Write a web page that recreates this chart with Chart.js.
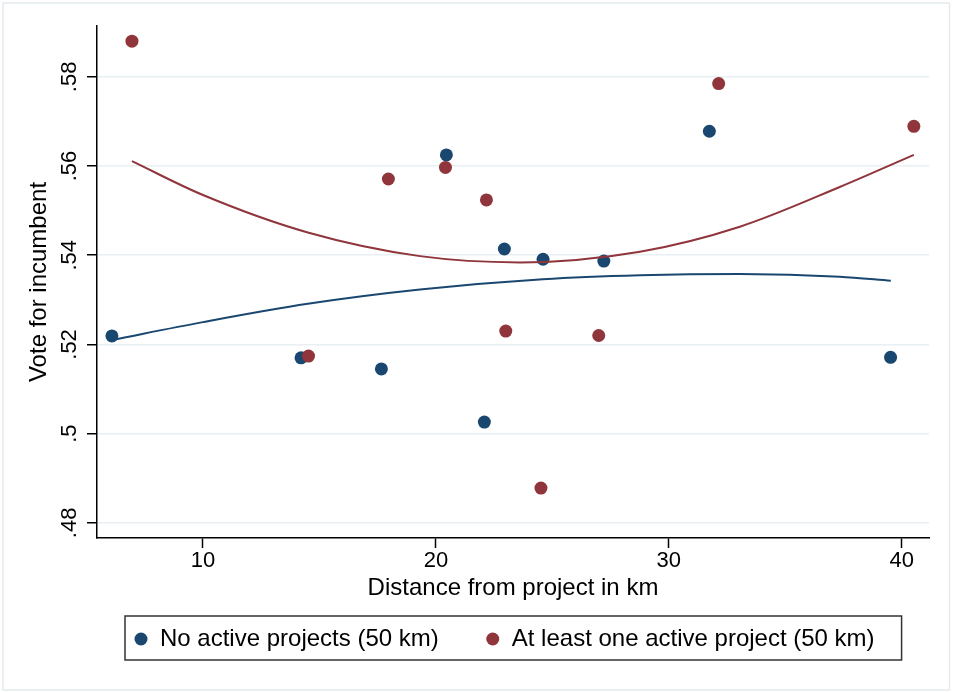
<!DOCTYPE html>
<html>
<head>
<meta charset="utf-8">
<title>Vote for incumbent</title>
<script src="https://cdn.jsdelivr.net/npm/chart.js@4.4.0/dist/chart.umd.min.js"></script>
<style>
  html, body { margin: 0; padding: 0; background: #fff; }
  #wrap { width: 953px; height: 692px; }
</style>
</head>
<body>
<div id="wrap"><canvas id="voteChart" width="953" height="692"></canvas></div>
<script>
// No active projects (50 km)
const noActiveX = [6.09, 14.21, 17.66, 20.45, 22.08, 22.94, 24.60, 27.21, 31.74, 39.52];
const noActiveY = [0.5219, 0.5170, 0.5145, 0.5625, 0.5026, 0.5414, 0.5391, 0.5387, 0.5678, 0.5171];

// At least one active project (50 km)
const activeX = [6.95, 14.53, 17.96, 20.41, 22.17, 23.00, 24.51, 26.99, 32.14, 40.52];
const activeY = [0.5880, 0.5174, 0.5571, 0.5597, 0.5524, 0.5230, 0.4878, 0.5220, 0.5785, 0.5689];

// fitted curves
const noActiveFitX = [6.09, 10, 14.5, 19.32, 24.59, 28.76, 33.05, 37.34, 39.53];
const noActiveFitY = [0.5210, 0.5250, 0.5291, 0.5323, 0.5346, 0.5355, 0.5358, 0.5352, 0.5343];
const activeFitX = [6.95, 10, 14.5, 19.32, 23.61, 28.76, 33.05, 37.34, 40.52];
const activeFitY = [0.5611, 0.5535, 0.5451, 0.5398, 0.5384, 0.5408, 0.5464, 0.5553, 0.5625];

// axes
const xTicks = [10, 20, 30, 40];
const yTicks = [0.48, 0.50, 0.52, 0.54, 0.56, 0.58];
const yTickLabels = ['.48', '.5', '.52', '.54', '.56', '.58'];

const NAVY = '#1a476f';
const MAROON = '#90353b';
const FONT = "'Liberation Sans', Arial, Helvetica, sans-serif";

function pts(xs, ys) {
    return xs.map((x, i) => ({ x: x, y: ys[i] }));
}

// white background and thin outer frame
const frame = {
    id: 'frame',
    beforeDraw(chart) {
        const c = chart.ctx;
        c.save();
        c.fillStyle = '#fff';
        c.fillRect(0, 0, chart.width, chart.height);
        c.strokeStyle = '#e3ebee';
        c.lineWidth = 1.5;
        c.strokeRect(3, 3, chart.width - 6.5, chart.height - 5);
        c.restore();
    }
};

// boxed legend under the x title (only the scatter series)
const boxLegend = {
    id: 'boxLegend',
    afterDraw(chart) {
        const c = chart.ctx;
        const items = chart.data.datasets.filter(d => d.inLegend);
        c.save();
        c.font = '24px ' + FONT;
        c.textBaseline = 'middle';
        let left = 125, top = 616, h = 44, cy = top + h / 2 + 1;
        let x = left + 16;
        let parts = [];
        items.forEach((d, i) => {
            if (i > 0) x += 54;
            const w = c.measureText(d.label).width;
            parts.push({ dot: x, text: x + 19, color: d.backgroundColor, label: d.label });
            x += 19 + w;
        });
        const right = x + 27;
        c.fillStyle = '#fff';
        c.fillRect(left, top, right - left, h);
        c.strokeStyle = '#333';
        c.lineWidth = 1.5;
        c.strokeRect(left, top, right - left, h);
        parts.forEach(p => {
            c.fillStyle = p.color;
            c.beginPath();
            c.arc(p.dot, cy, 6.5, 0, Math.PI * 2);
            c.fill();
            c.fillStyle = '#000';
            c.fillText(p.label, p.text, cy);
        });
        c.restore();
    }
};

const ctx = document.getElementById('voteChart').getContext('2d');
const voteChart = new Chart(ctx, {
    type: 'scatter',
    data: {
        datasets: [
            {
                label: 'No active projects (50 km)',
                data: pts(noActiveX, noActiveY),
                backgroundColor: NAVY,
                pointRadius: 6.5,
                pointHoverRadius: 6.5,
                borderWidth: 0,
                inLegend: true,
                order: 4
            },
            {
                label: 'At least one active project (50 km)',
                data: pts(activeX, activeY),
                backgroundColor: MAROON,
                pointRadius: 6.5,
                pointHoverRadius: 6.5,
                borderWidth: 0,
                inLegend: true,
                order: 3
            },
            {
                label: 'Fitted values (no active)',
                data: pts(noActiveFitX, noActiveFitY),
                showLine: true,
                borderColor: NAVY,
                borderWidth: 2,
                pointRadius: 0,
                cubicInterpolationMode: 'monotone',
                fill: false,
                order: 2
            },
            {
                label: 'Fitted values (active)',
                data: pts(activeFitX, activeFitY),
                showLine: true,
                borderColor: MAROON,
                borderWidth: 2,
                pointRadius: 0,
                cubicInterpolationMode: 'monotone',
                fill: false,
                order: 1
            }
        ]
    },
    options: {
        responsive: false,
        animation: false,
        layout: { padding: { left: 0, top: 26, right: 24, bottom: 76 } },
        plugins: {
            legend: { display: false },
            tooltip: { enabled: false }
        },
        scales: {
            x: {
                type: 'linear',
                min: 5.45,
                max: 41.17,
                afterBuildTicks: s => { s.ticks = xTicks.map(v => ({ value: v })); },
                afterFit: s => { s.height = 78; },
                ticks: {
                    color: '#000',
                    font: { family: FONT, size: 22 },
                    padding: 0,
                    maxRotation: 0
                },
                grid: {
                    drawOnChartArea: false,
                    tickLength: 10,
                    tickColor: '#000',
                    tickWidth: 1.5
                },
                border: { color: '#000', width: 1.5 },
                title: {
                    display: true,
                    text: 'Distance from project in km',
                    color: '#000',
                    font: { family: FONT, size: 24 },
                    padding: { top: 0, bottom: 13.6 }
                }
            },
            y: {
                type: 'linear',
                min: 0.4766,
                max: 0.5914,
                afterBuildTicks: s => { s.ticks = yTicks.map(v => ({ value: v })); },
                afterFit: s => { s.width = 97; },
                ticks: {
                    color: '#000',
                    font: { family: FONT, size: 22 },
                    minRotation: 90,
                    maxRotation: 90,
                    crossAlign: 'center',
                    padding: 1.7,
                    callback: (v, i) => yTickLabels[i]
                },
                grid: {
                    color: '#e9f0f3',
                    lineWidth: 1.5,
                    tickLength: 10,
                    tickColor: '#000',
                    tickWidth: 1.5
                },
                border: { color: '#000', width: 1.5 },
                title: {
                    display: true,
                    text: 'Vote for incumbent',
                    color: '#000',
                    font: { family: FONT, size: 24 },
                    padding: { top: 25.3, bottom: 0 }
                }
            }
        }
    },
    plugins: [frame, boxLegend]
});
</script>
</body>
</html>
